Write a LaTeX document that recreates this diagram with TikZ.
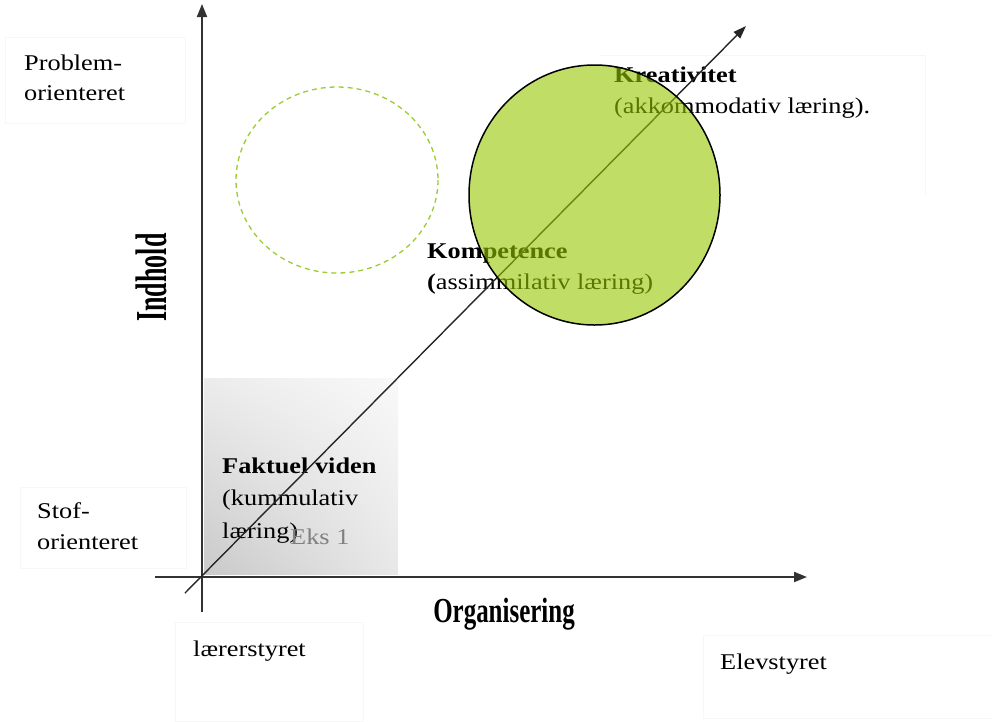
\documentclass[tikz,border=0pt]{standalone}
\usepackage{fontspec}
\usepackage{graphicx}
\setmainfont{Liberation Serif}[FakeStretch=1.17]
\newfontfamily\labserif{Liberation Serif}
\usetikzlibrary{arrows.meta,shadings}
\definecolor{leaf}{RGB}{150,198,0}
\definecolor{dashgreen}{RGB}{154,205,50}
\definecolor{faint}{RGB}{247,247,247}
\tikzset{
  txt/.style={anchor=base west, inner sep=0pt, font=\fontsize{22.5}{26}\selectfont},
  axislab/.style={inner sep=0pt, font=\labserif\bfseries\fontsize{26}{30}\selectfont},
  faintbox/.style={draw=faint, line width=0.8pt},
  axis/.style={draw=black!80, line width=2pt, -{Triangle[length=13pt,width=10pt]}},
  diag/.style={draw=black!85, line width=1.4pt, -{Triangle[length=13pt,width=9pt]}}
}
\begin{document}
\begin{tikzpicture}[x=1pt,y=-1pt]
\useasboundingbox (0,0) rectangle (992,721);
% faint frames
\draw[faintbox] (5,37) rectangle (185,123);
\draw[faintbox] (20,487) rectangle (186,568);
\draw[faintbox] (175,622) rectangle (363,721);
\draw[faintbox] (703,635) rectangle (992,718);
\draw[faintbox] (600,55) -- (925,55) -- (925,195);
% shaded square
\shade[upper left=gray!15, upper right=gray!5, lower left=gray!42, lower right=gray!18] (204,378) rectangle (398,574);
% axes
\coordinate (vb) at (202,612);
\coordinate (vt) at (202,4);
\coordinate (hl) at (155,577);
\coordinate (hr) at (807,577);
\coordinate (db) at (185,593);
\coordinate (dt) at (746,26);
\draw[axis] (vb) -- (vt);
\draw[axis] (hl) -- (hr);
% dashed circle
\draw[dashgreen, line width=1.3pt, dash pattern=on 5pt off 4pt] (337,180) ellipse [x radius=101, y radius=93];
% texts
\node[txt] (prob1) at (24,70) {Problem-};
\node[txt] (prob2) at (24,100) {orienteret};
\node[txt] (stof1) at (37,518) {Stof-};
\node[txt] (stof2) at (37,549) {orienteret};
\node[txt] (laerer) at (193,656) {lærerstyret};
\node[txt] (elev) at (720,669) {Elevstyret};
\node[txt] (fak1) at (222,473) {\bfseries Faktuel viden};
\node[txt] (fak2) at (222,505) {(kummulativ};
\node[txt] (fak3) at (222,538) {læring)};
\node[txt, text=gray] (eks) at (290,544) {Eks 1};
\node[txt] (komp1) at (427,258) {\bfseries Kompetence};
\node[txt] (komp2) at (427,289) {{\bfseries (}assimmilativ læring)};
\node[txt] (krea1) at (614,82) {\bfseries Kreativitet};
\node[txt] (krea2) at (614,113) {(akkommodativ læring).};
\node[axislab, rotate=90] (indhold) at (151.5,277.5) {\scalebox{1.0}[1.7]{Indhold}};
\node[axislab] (org) at (504,614) {\scalebox{0.96}[1.35]{Organisering}};
% diagonal
\draw[diag] (db) -- (dt);
% green ellipse
\draw[black, line width=1.5pt, fill=leaf, fill opacity=0.6] (594.5,195) ellipse [x radius=125.5, y radius=130];
\end{tikzpicture}
\end{document}
